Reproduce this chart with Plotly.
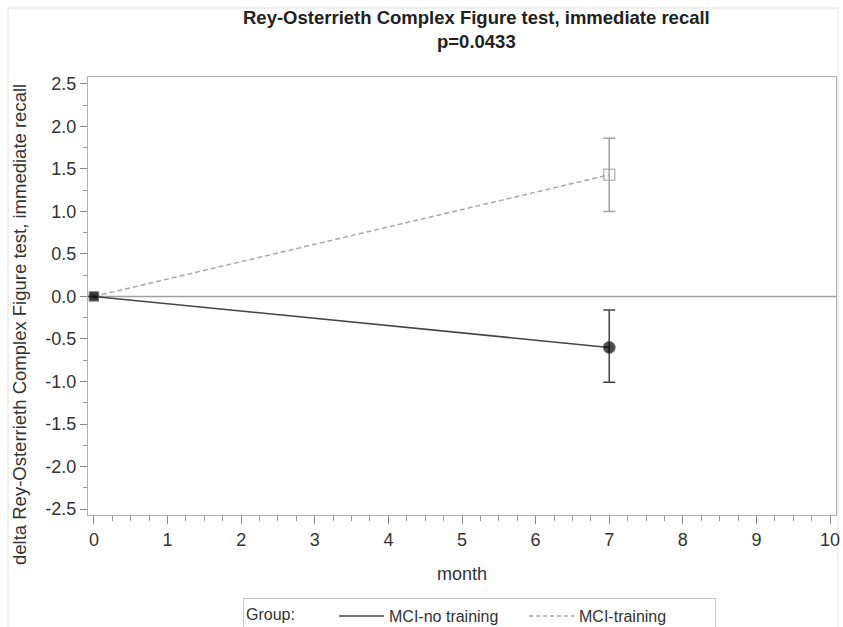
import plotly.graph_objects as go

months = [0, 7]
no_train = [0.0, -0.60]
no_train_hi = [0.0, 0.44]
no_train_lo = [0.0, 0.41]
train = [0.0, 1.43]
train_hi = [0.0, 0.43]
train_lo = [0.0, 0.43]

T, B, L, R = 77, 112, 88, 7
PH = 627 - T - B
PW = 843 - L - R


def py(pix):
    return (627 - B - pix) / PH


def px(pix):
    return (pix - L) / PW


fig = go.Figure()
fig.add_hline(y=0, line=dict(color="#a0a0a0", width=1.5), layer="below")

fig.add_trace(go.Scatter(
    x=months, y=train, name="MCI-training", mode="lines+markers", showlegend=False,
    line=dict(color="#a8a8a8", width=1.5, dash="5px,3px"),
    marker=dict(symbol=["square", "square-open"], size=[9, 11], color="#a0a0a0",
                line=dict(color="#a0a0a0", width=1.5)),
    error_y=dict(type="data", symmetric=False, array=train_hi, arrayminus=train_lo,
                 color="#a0a0a0", thickness=1.5, width=6),
))
fig.add_trace(go.Scatter(
    x=months, y=no_train, name="MCI-no training", mode="lines+markers", showlegend=False,
    line=dict(color="#444444", width=1.5),
    marker=dict(symbol=["square", "circle"], size=[9, 12], color="black"),
    error_y=dict(type="data", symmetric=False, array=no_train_hi, arrayminus=no_train_lo,
                 color="#444444", thickness=1.5, width=6),
))
fig.add_trace(go.Scatter(x=[None], y=[None], name="MCI-no training", mode="lines",
                         line=dict(color="#444444", width=1.5)))
fig.add_trace(go.Scatter(x=[None], y=[None], name="MCI-training", mode="lines",
                         line=dict(color="#a8a8a8", width=1.5, dash="4px,3px")))

axis_font = dict(family="Arial", size=18, color="#333333")
fig.update_layout(
    width=843, height=627,
    paper_bgcolor="white", plot_bgcolor="white",
    margin=dict(l=L, r=R, t=T, b=B, autoexpand=False),
    font=dict(family="Arial", color="#333333"),
    showlegend=True,
    legend=dict(orientation="h", x=px(243), xanchor="left", y=py(598), yanchor="top",
                title=dict(text="Group:       ", font=dict(size=16, family="Arial")),
                font=dict(size=16, family="Arial", color="#333333"),
                bordercolor="#c8c8c8", borderwidth=1, itemwidth=45,
                entrywidthmode="pixels", entrywidth=130),
    xaxis=dict(range=[-0.08, 10.08], tickmode="array", tickvals=list(range(11)),
               ticks="outside", ticklen=8, tickcolor="#888888", showgrid=False, zeroline=False,
               showline=True, linecolor="#b0b0b0", mirror=True,
               minor=dict(dtick=0.25, ticks="outside", ticklen=5, tickcolor="#999999"),
               tickfont=axis_font,
               title=dict(text="month", font=axis_font, standoff=18)),
    yaxis=dict(range=[-2.57, 2.58], tickmode="array",
               tickvals=[2.5, 2.0, 1.5, 1.0, 0.5, 0.0, -0.5, -1.0, -1.5, -2.0, -2.5],
               ticktext=["2.5", "2.0", "1.5", "1.0", "0.5", "0.0", "-0.5", "-1.0", "-1.5", "-2.0", "-2.5"],
               ticks="outside", ticklen=7, tickcolor="#888888", showgrid=False, zeroline=False,
               showline=True, linecolor="#b0b0b0", mirror=True,
               minor=dict(dtick=0.25, ticks="outside", ticklen=4, tickcolor="#999999"),
               tickfont=axis_font),
)
title_font = dict(family="Arial", size=18.5, color="#222222")
fig.add_annotation(text="<b>Rey-Osterrieth Complex Figure test, immediate recall</b>",
                   xref="paper", yref="paper", x=px(476), y=py(18), xanchor="center", yanchor="middle",
                   showarrow=False, font=title_font)
fig.add_annotation(text="<b>p=0.0433</b>",
                   xref="paper", yref="paper", x=px(476), y=py(42), xanchor="center", yanchor="middle",
                   showarrow=False, font=title_font)
fig.add_annotation(text="delta Rey-Osterrieth Complex Figure test, immediate recall",
                   xref="paper", yref="paper", x=px(19), y=py(325), xanchor="center", yanchor="middle",
                   textangle=-90, showarrow=False, font=dict(family="Arial", size=18.5, color="#333333"))
fig.add_shape(type="rect", xref="paper", yref="paper", x0=px(8), x1=px(838), y0=py(640), y1=py(8),
              line=dict(color="#e0e0e0", width=1), layer="below")
fig.write_html("out.html")
